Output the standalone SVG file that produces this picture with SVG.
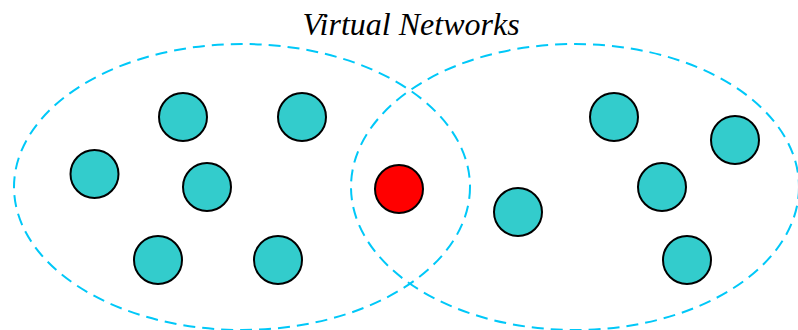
<svg xmlns="http://www.w3.org/2000/svg" width="798" height="330" viewBox="0 0 798 330">
<style>
.net{fill:none;stroke:#00c8f8;stroke-width:2;stroke-dasharray:12 7}
.n{fill:#33cccc;stroke:#000;stroke-width:2}
.r{fill:#ff0000;stroke:#000;stroke-width:2}
.t{font-family:"Liberation Serif",serif;font-style:italic;font-size:32px;fill:#000}
</style>
<rect width="798" height="330" fill="#fff"/>
<text class="t" x="411" y="35" text-anchor="middle">Virtual Networks</text>
<g id="networks">
<ellipse id="net-left" class="net" cx="242" cy="187" rx="228" ry="143"/>
<ellipse id="net-right" class="net" cx="575" cy="187" rx="224" ry="143"/>
</g>
<g id="n1"><circle class="n" cx="183" cy="117" r="24"/></g>
<g id="n2"><circle class="n" cx="302" cy="117" r="24"/></g>
<g id="n3"><circle class="n" cx="94.5" cy="174" r="24"/></g>
<g id="n4"><circle class="n" cx="207" cy="187" r="24"/></g>
<g id="n5"><circle class="n" cx="158" cy="260" r="24"/></g>
<g id="n6"><circle class="n" cx="278" cy="260" r="24"/></g>
<g id="n7"><circle class="r" cx="399" cy="189" r="24"/></g>
<g id="n8"><circle class="n" cx="518" cy="212" r="24"/></g>
<g id="n9"><circle class="n" cx="614" cy="117" r="24"/></g>
<g id="n10"><circle class="n" cx="735" cy="140" r="24"/></g>
<g id="n11"><circle class="n" cx="662" cy="187" r="24"/></g>
<g id="n12"><circle class="n" cx="687" cy="260" r="24"/></g>
</svg>
